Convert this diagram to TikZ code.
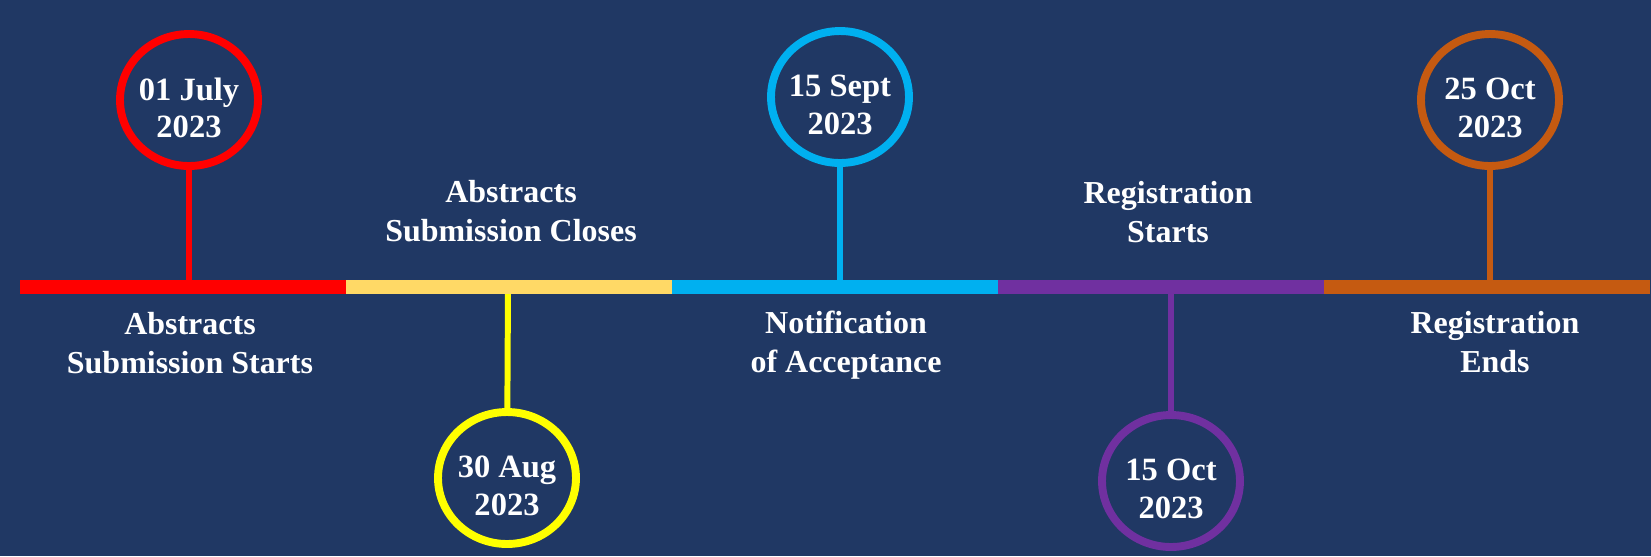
\documentclass[tikz,border=0pt]{standalone}
\usepackage{fontspec}
\setmainfont{Liberation Serif}
\usetikzlibrary{shapes.geometric}
\definecolor{navy}{HTML}{203864}
\definecolor{tlred}{HTML}{FF0000}
\definecolor{tlgold}{HTML}{FFD966}
\definecolor{tlyellow}{HTML}{FFFF00}
\definecolor{tlblue}{HTML}{00B0F0}
\definecolor{tlpurple}{HTML}{7030A0}
\definecolor{tlorange}{HTML}{C55A11}

\begin{document}
\begin{tikzpicture}[x=0.02cm,y=-0.02cm,
  date node/.style={ellipse,draw,line width=4.5pt,minimum width=2.76cm,minimum height=2.64cm,inner sep=0pt},
  date text/.style={text=white,align=center,font=\bfseries\fontsize{18.5}{21.3}\selectfont},
  text node/.style={text=white,align=center,font=\bfseries\fontsize{18.2}{22.6}\selectfont},
  stem/.style={line width=3.4pt},
  bar/.style={line width=0.28cm}]
    \useasboundingbox (0,0) rectangle (1651,556);
    \fill[navy] (0,0) rectangle (1651,556);

    % dates
    \node[date node,tlred] (d1) at (189,100) {};
    \node[date node,tlyellow] (d2) at (507,478) {};
    \node[date node,tlblue] (d3) at (840,97) {};
    \node[date node,tlpurple] (d4) at (1171,481) {};
    \node[date node,tlorange] (d5) at (1490,100) {};
    \node[date text] (l1) at ([yshift=-0.16cm]d1) {01 July\\2023};
    \node[date text] (l2) at ([yshift=-0.16cm]d2) {30 Aug\\2023};
    \node[date text] (l3) at ([yshift=-0.16cm]d3) {15 Sept\\2023};
    \node[date text] (l4) at ([yshift=-0.16cm]d4) {15 Oct\\2023};
    \node[date text] (l5) at ([yshift=-0.16cm]d5) {25 Oct\\2023};

    % points on the line
    \coordinate (b1) at (189,287);
    \coordinate (b2) at (508,287);
    \coordinate (b3) at (840,287);
    \coordinate (b4) at (1171,287);
    \coordinate (b5) at (1490,287);

    \draw[stem,tlred] (d1) -- (b1);
    \draw[stem,tlyellow] (d2) -- (b2);
    \draw[stem,tlblue] (d3) -- (b3);
    \draw[stem,tlpurple] (d4) -- (b4);
    \draw[stem,tlorange] (d5) -- (b5);

    % timeline
    \draw[bar,tlred] (20,287) -- (346,287);
    \draw[bar,tlgold] (346,287) -- (672,287);
    \draw[bar,tlblue] (672,287) -- (998,287);
    \draw[bar,tlpurple] (998,287) -- (1324,287);
    \draw[bar,tlorange] (1324,287) -- (1650,287);

    % events
    \node[text node] (t1) at (190,343) {Abstracts\\Submission Starts};
    \node[text node] (t2) at (511,211) {Abstracts\\Submission Closes};
    \node[text node] (t3) at (846,345) {Notification\\of Acceptance};
    \node[text node] (t4) at (1168,212) {Registration\\Starts};
    \node[text node] (t5) at (1495,342) {Registration\\Ends};
\end{tikzpicture}
\end{document}
